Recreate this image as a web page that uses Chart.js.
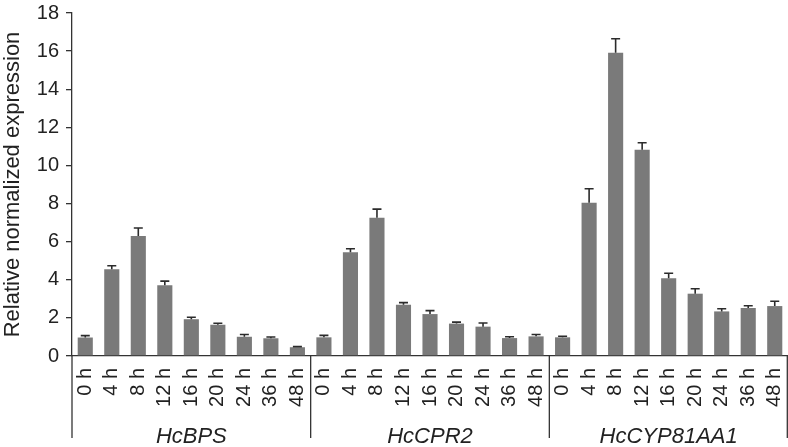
<!DOCTYPE html>
<html>
<head>
    <title>Relative normalized expression</title>
    <script src="https://cdn.jsdelivr.net/npm/chart.js"></script>
    <style>
        body, html {
            margin: 0;
            padding: 0;
            background: #fff;
        }
        .wrap {
            width: 788px;
            height: 447px;
        }
    </style>
</head>
<body>
<div class="wrap"><canvas id="expr"></canvas></div>

<script>
    const times = ['0 h', '4 h', '8 h', '12 h', '16 h', '20 h', '24 h', '36 h', '48 h'];
    const genes = ['HcBPS', 'HcCPR2', 'HcCYP81AA1'];
    const yTicks = [0, 2, 4, 6, 8, 10, 12, 14, 16, 18];

    const bpsMean = [0.97, 4.55, 6.30, 3.71, 1.93, 1.64, 1.01, 0.93, 0.46];
    const bpsErr  = [0.10, 0.19, 0.42, 0.22, 0.10, 0.08, 0.12, 0.07, 0.03];
    const cprMean = [0.98, 5.44, 7.26, 2.69, 2.20, 1.70, 1.54, 0.94, 1.03];
    const cprErr  = [0.10, 0.19, 0.45, 0.11, 0.18, 0.08, 0.19, 0.07, 0.10];
    const cypMean = [0.98, 8.04, 15.91, 10.82, 4.08, 3.27, 2.34, 2.52, 2.62];
    const cypErr  = [0.06, 0.74, 0.74, 0.37, 0.26, 0.26, 0.14, 0.12, 0.25];

    const labels = [...times, ...times, ...times];
    const means = [...bpsMean, ...cprMean, ...cypMean];
    const errs = [...bpsErr, ...cprErr, ...cypErr];

    // upper error bars, drawn through the y scale
    const errorBars = {
        id: 'errorBars',
        afterDatasetsDraw(chart) {
            const ctx = chart.ctx;
            const y = chart.scales.y;
            const meta = chart.getDatasetMeta(0);
            ctx.save();
            ctx.strokeStyle = '#2b2b2b';
            ctx.lineWidth = 1.6;
            meta.data.forEach((bar, i) => {
                const top = y.getPixelForValue(means[i] + errs[i]);
                ctx.beginPath();
                ctx.moveTo(bar.x, bar.y);
                ctx.lineTo(bar.x, top);
                ctx.moveTo(bar.x - 4.5, top);
                ctx.lineTo(bar.x + 4.5, top);
                ctx.stroke();
            });
            ctx.restore();
        }
    };

    // gene group separators and names under the time labels
    const groups = {
        id: 'groups',
        afterDraw(chart) {
            const ctx = chart.ctx;
            const x = chart.scales.x;
            const area = chart.chartArea;
            const step = x.getPixelForValue(1) - x.getPixelForValue(0);
            ctx.save();
            ctx.strokeStyle = '#333';
            ctx.lineWidth = 1.3;
            for (let g = 0; g <= genes.length; g++) {
                let px = x.getPixelForValue(g * times.length) - step / 2;
                if (g === genes.length) px = area.right - 0.7;
                if (g === 0) px = area.left;
                ctx.beginPath();
                ctx.moveTo(px, area.bottom);
                ctx.lineTo(px, 438);
                ctx.stroke();
            }
            ctx.fillStyle = '#222';
            ctx.font = 'italic 22px "Liberation Sans", Arial, sans-serif';
            ctx.textAlign = 'center';
            ctx.textBaseline = 'middle';
            genes.forEach((name, g) => {
                const a = x.getPixelForValue(g * times.length);
                const b = x.getPixelForValue(g * times.length + times.length - 1);
                ctx.fillText(name, (a + b) / 2, 437);
            });
            ctx.restore();
        }
    };

    new Chart(document.getElementById('expr'), {
        type: 'bar',
        data: {
            labels: labels,
            datasets: [{
                data: means,
                backgroundColor: '#7a7a7a',
                borderWidth: 0,
                barPercentage: 0.57,
                categoryPercentage: 1
            }]
        },
        options: {
            responsive: true,
            maintainAspectRatio: false,
            animation: false,
            layout: { padding: { top: 13, right: 0, left: 0, bottom: 0 } },
            plugins: {
                legend: { display: false },
                tooltip: { enabled: false }
            },
            scales: {
                x: {
                    grid: { display: false },
                    border: { color: '#333', width: 1.3 },
                    ticks: {
                        color: '#222',
                        font: { family: '"Liberation Sans", Arial', size: 20 },
                        minRotation: 90,
                        maxRotation: 90,
                        autoSkip: false,
                        padding: 4
                    },
                    afterFit(scale) {
                        scale.height = 91;
                        scale.paddingLeft = 0;
                        scale.paddingRight = 0;
                    }
                },
                y: {
                    min: 0,
                    max: 18,
                    afterBuildTicks(scale) { scale.ticks = yTicks.map(v => ({ value: v })); },
                    grid: {
                        drawOnChartArea: false,
                        tickLength: 6,
                        color: '#333',
                        lineWidth: 1.3
                    },
                    border: { color: '#333', width: 1.3 },
                    ticks: {
                        color: '#222',
                        font: { family: '"Liberation Sans", Arial', size: 20 },
                        padding: 7
                    },
                    title: {
                        display: true,
                        text: 'Relative normalized expression',
                        color: '#222',
                        font: { family: '"Liberation Sans", Arial', size: 22 },
                        padding: 0
                    },
                    afterFit(scale) {
                        scale.width = 72;
                        scale.paddingTop = 0;
                        scale.paddingBottom = 0;
                    }
                }
            }
        },
        plugins: [errorBars, groups]
    });
</script>
</body>
</html>
